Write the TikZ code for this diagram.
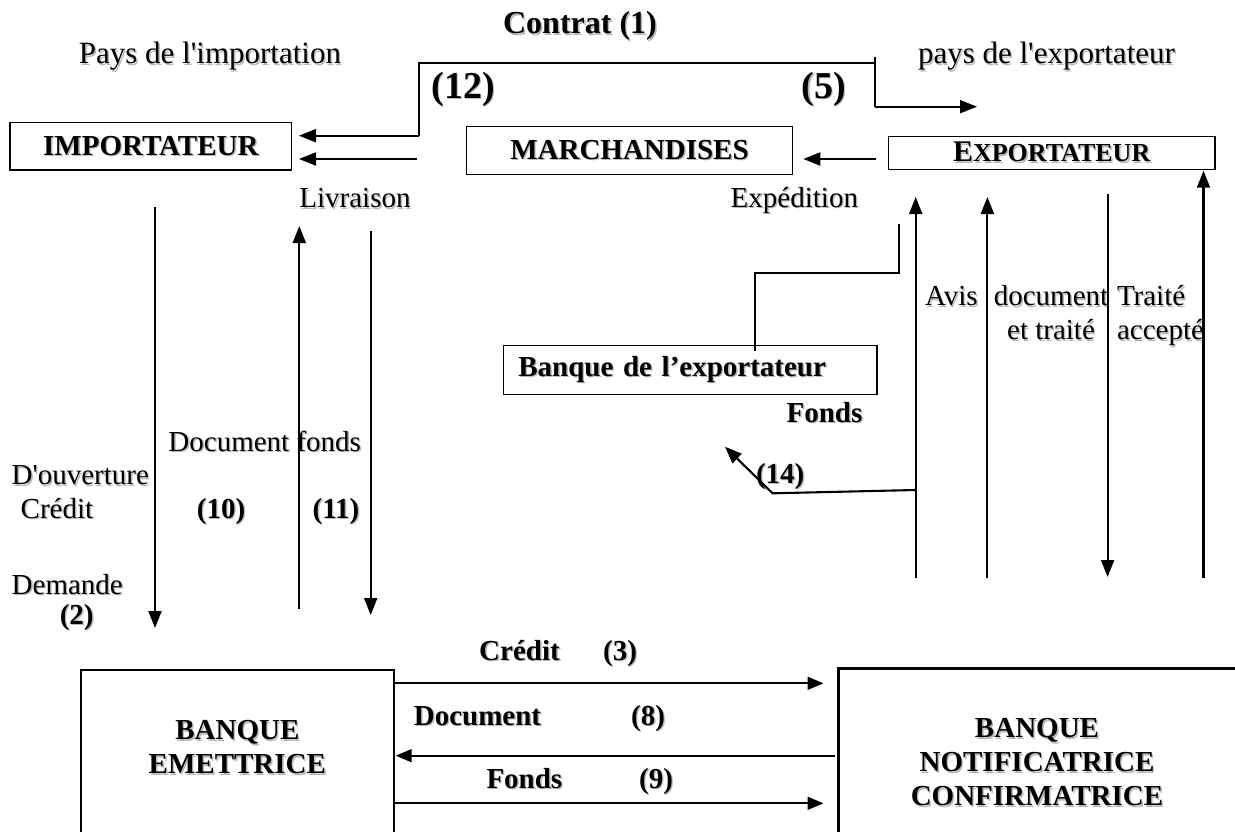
\documentclass[tikz,border=0pt]{standalone}
\usepackage{fontspec}
\setmainfont{Liberation Serif}
\usetikzlibrary{arrows.meta}
% text with a soft grey drop shadow
\newcommand\shd[1]{\leavevmode\rlap{\kern1.4pt\raisebox{-1.4pt}{\color{black!28}#1}}#1}
\begin{document}
\begin{tikzpicture}[x=1pt,y=-1pt,
  every node/.style={inner sep=0pt,outer sep=0pt},
  reg/.style={font=\fontsize{29pt}{34pt}\selectfont},
  bld/.style={font=\fontsize{29pt}{34pt}\selectfont\bfseries},
  big/.style={font=\fontsize{38pt}{40pt}\selectfont\bfseries},
  boxframe/.style={draw,line width=1.3pt},
  conn/.style={line width=2.1pt},
  arr/.style={conn,-{Triangle[length=17pt,width=13pt]}},
  bconn/.style={line width=1.7pt,-{Triangle[length=16pt,width=13pt]}},
  bankside/.style={line width=2.2pt},
]
\useasboundingbox (0,0) rectangle (1235,832);
\clip (0,0) rectangle (1235,832);
\fill[white] (0,0) rectangle (1235,832);

% ---------- headings ----------
\node[bld,font=\fontsize{32pt}{34pt}\selectfont\bfseries] (contrat) at (580,27) {\shd{Contrat (1)}};
\node[reg,font=\fontsize{31pt}{34pt}\selectfont] (paysimp) at (210,57) {\shd{Pays de l\textquotesingle importation}};
\node[reg,font=\fontsize{31pt}{34pt}\selectfont,anchor=west] (paysexp) at (918,57) {\shd{pays de l\textquotesingle exportateur}};
\node[big] (n12) at (463,90) {\shd{(12)}};
\node[big] (n5) at (824,90) {\shd{(5)}};

% ---------- top row of boxes ----------
\node[boxframe,bld,minimum width=281.7pt,minimum height=47.3pt] (imp) at (150.85,146.35) {\shd{IMPORTATEUR}};
\node[boxframe,bld,minimum width=325.6pt,minimum height=47.6pt] (mar) at (629.5,150.5) {\shd{MARCHANDISES}};
\node[boxframe,minimum width=326.7pt,minimum height=32.8pt,font=\bfseries] (exp) at (1051.65,152.8)
  {\shd{{\fontsize{30pt}{34pt}\selectfont E}{\fontsize{26pt}{28pt}\selectfont XPORTATEUR}}\hspace{14pt}};

\node[reg] (livraison) at (355,199) {\shd{Livraison}};
\node[reg,anchor=east] (expedition) at (858,201) {\shd{Expédition}};

% ---------- exporter's bank ----------
\node[boxframe,bld,minimum width=373.7pt,minimum height=48.9pt,text width=343.7pt,align=left,inner xsep=15pt] (bex) at (690.15,369.75) {\shd{Banque de l’exportateur}};
\node[bld] (fonds) at (824.5,413) {\shd{Fonds}};
\node[bld,anchor=west] (n14) at (756,477) {\shd{(14)}};

% ---------- labels of the exporter's verticals ----------
\node[reg,anchor=north west] (avis) at (925,282) {\strut\shd{Avis}};
\node[reg,align=center,anchor=north] (doctr) at (1051,282) {\strut\shd{document}\\\strut\shd{et traité}};
\node[reg,align=left,anchor=north west] (tracc) at (1117,282) {\strut\shd{Traité}\\\strut\shd{accepté}};

% ---------- labels of the importer's verticals ----------
\node[reg] (docfonds) at (264.7,441.7) {\shd{Document fonds}};
\node[reg] (ouverture) at (80.3,476) {\shd{D\textquotesingle ouverture}};
\node[reg,anchor=base west] (credit) at (20.7,518) {\shd{Crédit}};
\node[bld,anchor=base] (n10) at (221,518) {\shd{(10)}};
\node[bld,anchor=base] (n11) at (336,518) {\shd{(11)}};
\node[reg,anchor=west] (demande) at (11.7,585) {\shd{Demande}};
\node[bld] (n2) at (76.7,618) {\shd{(2)}};

% ---------- banks ----------
\node[bld,align=center,minimum width=313.3pt,minimum height=156pt] (be) at (237.35,748) {\shd{BANQUE}\\\shd{EMETTRICE}};
\draw[bankside] ([yshift=-30pt]be.south west) -- (be.north west) -- (be.north east) -- ([yshift=-30pt]be.south east);
\node[bld,align=center,minimum width=397pt,minimum height=189pt] (bn) at (1037,763) {\shd{BANQUE}\\\shd{NOTIFICATRICE}\\\shd{CONFIRMATRICE}};
\draw[bankside] ([yshift=-30pt]bn.south west) -- (bn.north west) -- ([xshift=20pt]bn.north east);

\node[bld,anchor=base] (cred3a) at (519.5,660) {\shd{Crédit}};
\node[bld,anchor=base] (cred3b) at (620,660) {\shd{(3)}};
\node[bld,anchor=base] (doc8a) at (477.5,725) {\shd{Document}};
\node[bld,anchor=base] (doc8b) at (648,725) {\shd{(8)}};
\node[bld,anchor=base] (fon9a) at (524.4,788) {\shd{Fonds}};
\node[bld,anchor=base] (fon9b) at (656,788) {\shd{(9)}};

% ---------- contract and delivery connectors ----------
\coordinate (tk1) at (875,57);
\coordinate (tk2) at (875,106.7);
\coordinate (tkend) at (977,106.7);
\coordinate (c12) at (875,63.3);
\coordinate (c12b) at (418.7,135.7);
\coordinate (liv) at (416.7,159);
\draw[conn] (tk1) -- (tk2);
\draw[arr] (tk2) -- (tkend);
\draw[conn] (c12) -| (c12b);
\draw[arr,shorten >=7.3pt] (c12b) -- (imp.east |- c12b);
\draw[arr,shorten >=7.3pt] (liv) -- (imp.east |- liv);
\coordinate (shp) at (0,159);
\draw[arr,shorten <=12pt,shorten >=11pt] (exp.west |- shp) -- (mar.east |- shp);

% shipment line to the exporter's bank
\coordinate (e1) at (899.3,224);
\coordinate (ej) at (755.3,272.7);
\draw[conn] (e1) |- (ej) -- ([yshift=-6pt]bex.north -| ej);

% ---------- importer's verticals ----------
\coordinate (l1a) at (155,207.3);
\coordinate (l1b) at (155,628);
\coordinate (l2a) at (299.3,609);
\coordinate (l2b) at (299.3,226);
\coordinate (l3a) at (370.7,230.7);
\coordinate (l3b) at (370.7,615);
\draw[arr] (l1a) -- (l1b);
\draw[arr] (l2a) -- (l2b);
\draw[arr] (l3a) -- (l3b);

% ---------- exporter's verticals ----------
\coordinate (r1a) at (915.7,578);
\coordinate (r1b) at (915.7,197);
\coordinate (r2a) at (987.4,578);
\coordinate (r2b) at (987.4,197);
\coordinate (r3a) at (1107.6,194.3);
\coordinate (r3b) at (1107.6,577);
\coordinate (r4a) at (1203.5,578);
\draw[arr] (r1a) -- (r1b);
\draw[arr] (r2a) -- (r2b);
\draw[arr] (r3a) -- (r3b);
\draw[arr,shorten >=1.5pt] (r4a) -- (exp.south -| r4a);

% funds back to the exporter's bank
\coordinate (f1) at (915.7,490);
\coordinate (f2) at (772.6,493.3);
\coordinate (f3) at (725,446.7);
\draw[arr] (f1) -- (f2) -- (f3);

% ---------- flows between the banks ----------
\coordinate (b1) at (0,683.3);
\coordinate (b2) at (0,755.7);
\coordinate (b3) at (0,803.3);
\draw[bconn,shorten >=15pt] (be.east |- b1) -- (bn.west |- b1);
\draw[bconn,shorten <=3.5pt,shorten >=1.7pt] (bn.west |- b2) -- (be.east |- b2);
\draw[bconn,shorten >=15pt] (be.east |- b3) -- (bn.west |- b3);
\end{tikzpicture}
\end{document}
